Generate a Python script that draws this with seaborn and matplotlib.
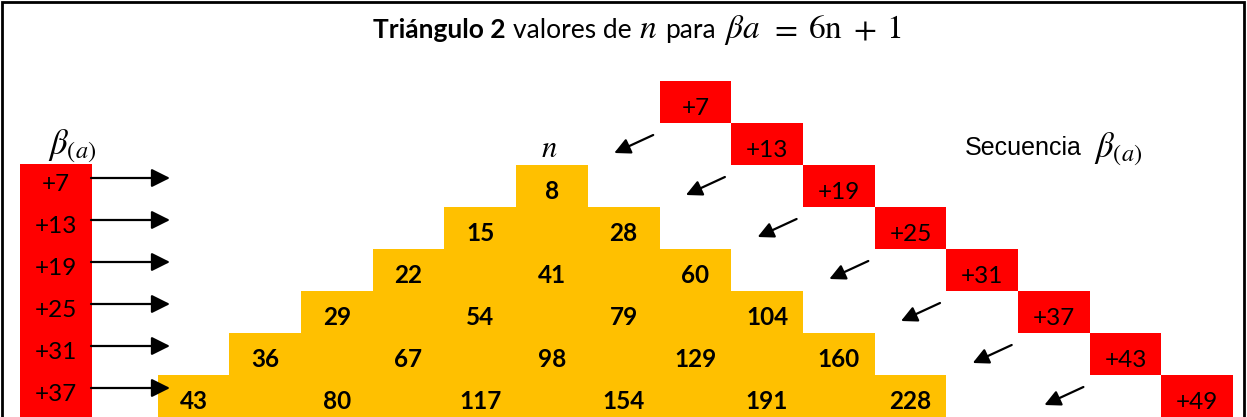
import matplotlib.pyplot as plt
import numpy as np
import seaborn as sns
from matplotlib.colors import ListedColormap
from matplotlib.patches import Rectangle

sns.set_theme(style="white")
plt.rcParams["font.family"] = ["Lato", "DejaVu Sans"]
plt.rcParams["mathtext.fontset"] = "custom"
plt.rcParams["mathtext.rm"] = "STIXGeneral"
plt.rcParams["mathtext.it"] = "STIXGeneral:italic"
plt.rcParams["mathtext.bf"] = "STIXGeneral:bold"

# data
beta_left = [7, 13, 19, 25, 31, 37]
beta_seq = [7, 13, 19, 25, 31, 37, 43, 49]
triangle = [
    [8],
    [15, 28],
    [22, 41, 60],
    [29, 54, 79, 104],
    [36, 67, 98, 129, 160],
    [43, 80, 117, 154, 191, 228],
]

YELLOW = "#FFC000"
RED = "#FF0000"

# layout (pixels)
W, H = 1247, 417
GRID_X0, CELL_W = 157.6, 71.7
GRID_Y0, CELL_H = 81, 42
N_ROWS, N_COLS = len(beta_seq), 15
APEX = 5          # column of the triangle apex
SEQ_COL0 = 7      # column of the first sequence cell
BASE = 0.8        # text baseline inside a cell (fraction of height)

# cell kinds: 0 = triangle, 1 = sequence, nan = empty
kind = np.full((N_ROWS, N_COLS), np.nan)
for r, row in enumerate(triangle):
    kind[r + 2, APEX - r:APEX + r + 1] = 0
for k in range(len(beta_seq)):
    kind[k, SEQ_COL0 + k] = 1

fig = plt.figure(figsize=(W / 100, H / 100), dpi=100)

heat_ax = fig.add_axes([
    GRID_X0 / W,
    1 - (GRID_Y0 + N_ROWS * CELL_H) / H,
    N_COLS * CELL_W / W,
    N_ROWS * CELL_H / H,
])
sns.heatmap(
    kind, mask=np.isnan(kind), cmap=ListedColormap([YELLOW, RED]),
    vmin=0, vmax=1, cbar=False, xticklabels=False, yticklabels=False,
    ax=heat_ax, antialiased=False,
)

for r, row in enumerate(triangle):
    for k, v in enumerate(row):
        heat_ax.text(APEX - r + 2 * k + 0.5, r + 2 + BASE, str(v),
                     ha="center", va="baseline", fontsize=17.5, fontweight="bold", color="black")
for k, v in enumerate(beta_seq):
    heat_ax.text(SEQ_COL0 + k + 0.5, k + BASE, f"+{v}",
                 ha="center", va="baseline", fontsize=17.5, color="black")

# overlay in pixel coordinates
ov = fig.add_axes([0, 0, 1, 1])
ov.set_xlim(0, W)
ov.set_ylim(H, 0)
ov.axis("off")
ov.patch.set_alpha(0)

# frame
ov.plot([2, 2, W - 3, W - 3], [H + 5, 2, 2, H + 5], color="black", lw=2, solid_joinstyle="miter")

# left beta column with arrows
col_top = GRID_Y0 + 2 * CELL_H
ov.add_patch(Rectangle((20, col_top - 1), 72, H - col_top + 5, color=RED, lw=0))
for i, v in enumerate(beta_left):
    top = col_top + i * CELL_H
    ov.text(56, top + 26, f"+{v}", ha="center", va="baseline", fontsize=17.5, color="black")
    ov.annotate("", xy=(170, top + 13), xytext=(91, top + 13),
                arrowprops=dict(arrowstyle="-|>", color="black", lw=1.6,
                                mutation_scale=28, shrinkA=0, shrinkB=0))

# diagonal arrows next to the sequence
for k in range(1, len(beta_seq)):
    tx = GRID_X0 + (SEQ_COL0 + k) * CELL_W - 78
    ty = GRID_Y0 + k * CELL_H + 12
    ov.annotate("", xy=(tx - 39, ty + 18), xytext=(tx, ty),
                arrowprops=dict(arrowstyle="-|>", color="black", lw=1.6,
                                mutation_scale=24, shrinkA=0, shrinkB=0))

# title, flowed piece by piece (text, size, weight, gap after)
title_pieces = [
    ("Triángulo 2", 19, "bold", 7),
    ("valores de", 19, "normal", 8),
    (r"$n$", 24, "normal", 8),
    ("para", 19, "normal", 8),
    (r"$\beta a$", 24, "normal", 10),
    (r"$=$", 24, "normal", 10),
    (r"$\mathrm{6n}$", 24, "normal", 10),
    (r"$+$", 24, "normal", 10),
    (r"$1$", 24, "normal", 0),
]
renderer = fig.canvas.get_renderer()
x = 373
for s, size, weight, gap in title_pieces:
    t = ov.text(x, 38, s, ha="left", va="baseline", color="black",
                fontsize=size, fontweight=weight)
    x += t.get_window_extent(renderer).width + gap

ov.text(549, 157, r"$n$", ha="center", va="baseline", fontsize=22, color="black")
ov.text(48, 154, r"$\beta_{(a)}$", ha="left", va="baseline", fontsize=25, color="black")
ov.text(965, 155, "Secuencia", ha="left", va="baseline", fontsize=18, color="black",
        family=["Liberation Sans", "DejaVu Sans"])
ov.text(1094, 157, r"$\beta_{(a)}$", ha="left", va="baseline", fontsize=25, color="black")

fig.savefig("out.png", dpi=100)
